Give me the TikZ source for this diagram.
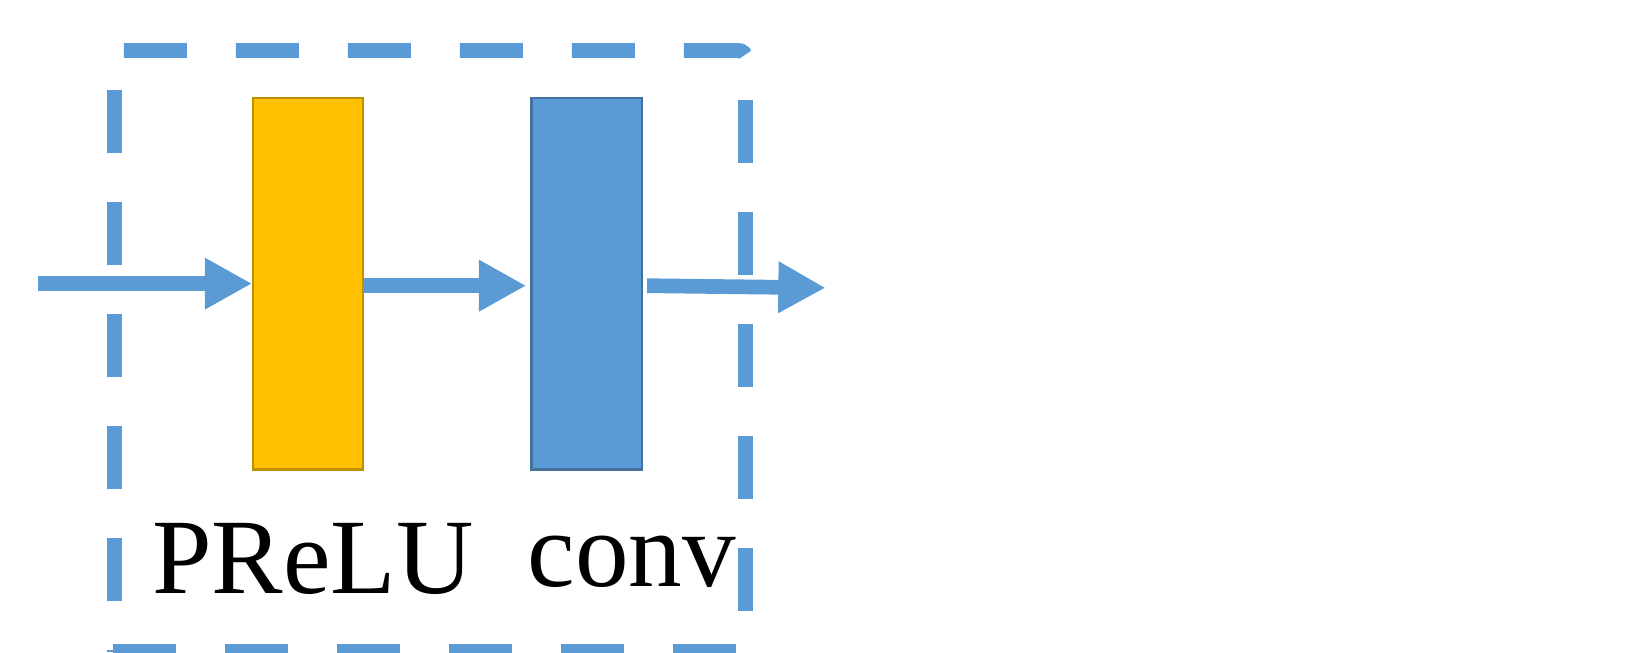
\documentclass[tikz,border=0pt]{standalone}
\usepackage{fontspec}
\setmainfont{Liberation Serif}
\usetikzlibrary{arrows.meta,calc}
\definecolor{ablue}{HTML}{5B9BD5}
\definecolor{ayellow}{HTML}{FFC000}
\definecolor{ayellowb}{HTML}{BF9000}
\definecolor{abluebord}{HTML}{41719C}
\begin{document}
\begin{tikzpicture}[x=1pt,y=-1pt,
  layer/.style={minimum width=105pt, minimum height=354pt, inner sep=0pt, line width=2pt},
  flow/.style={draw=ablue, line width=14pt, -{Triangle[length=45pt,width=46pt]}},
  frame/.style={draw=ablue, line width=14pt, dash pattern=on 60pt off 46.6pt},
  lbl/.style={font=\fontsize{102}{102}\selectfont, inner sep=0pt, anchor=base}]
\useasboundingbox (0,0) rectangle (1568,621);
% dashed frame
\coordinate (ts) at (118,48);
\coordinate (tr) at (710,48);
\coordinate (te) at (710,62);
\draw[frame, rounded corners=7pt] (ts) -- (tr) -- (te);
\coordinate (ls) at (109,86);
\coordinate (le) at (109,621);
\draw[frame] (ls) -- (le);
\coordinate (rs) at (710,95);
\coordinate (re) at (710,621);
\draw[frame] (rs) -- (re);
\coordinate (bs) at (108,620);
\coordinate (be) at (702,620);
\draw[frame] (bs) -- (be);
% layers
\node[layer, fill=ayellow, draw=ayellowb] (prelu) at (293.5,270) {};
\node[layer, fill=ablue, draw=abluebord] (conv) at (558.5,270) {};
% labels
\node[lbl] (preluL) at (298,565) {PReLU};
\node[lbl] (convL) at (601.5,558) {conv};
% arrows
\coordinate (in) at (36,270);
\coordinate (out) at (786,274);
\draw[flow] (in) -- (prelu.west);
\draw[flow] ([yshift=-2pt]prelu.east) -- ([xshift=-4pt,yshift=-2pt]conv.west);
\draw[flow] ([xshift=4pt,yshift=-2pt]conv.east) -- (out);
\end{tikzpicture}
\end{document}
